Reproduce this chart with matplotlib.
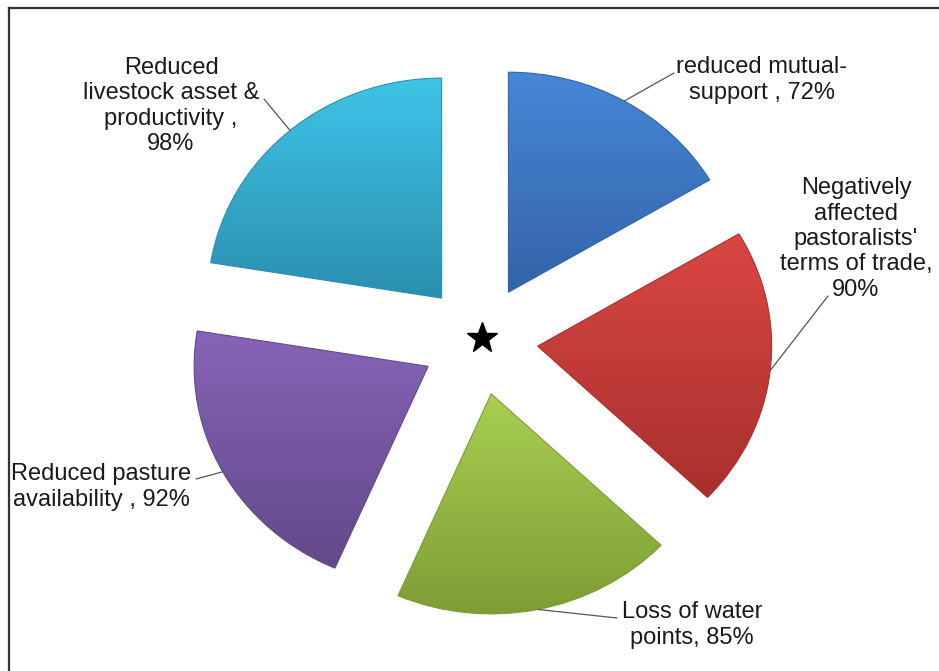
import numpy as np
import matplotlib
matplotlib.use("Agg")
import matplotlib.pyplot as plt
from matplotlib.lines import Line2D
from matplotlib.colors import LinearSegmentedColormap

plt.rcParams['font.family'] = ['Liberation Sans', 'DejaVu Sans']

# Impact categories (clockwise from 12 o'clock) and share of respondents (%)
categories = [
    "reduced mutual-\nsupport , 72%",
    "Negatively\naffected\npastoralists'\nterms of trade,\n90%",
    "Loss of water\npoints, 85%",
    "Reduced pasture\navailability , 92%",
    "Reduced\nlivestock asset &\nproductivity ,\n98%",
]
values = [72, 90, 85, 92, 98]
top_colors = ["#4687D6", "#DA4743", "#A9CF52", "#8764B7", "#3EC4E7"]
bottom_colors = ["#3364A8", "#A8302E", "#7D9C34", "#624989", "#2B8FAF"]

W, H = 939, 671
fig = plt.figure(figsize=(W / 100, H / 100), dpi=100)
fig.patch.set_facecolor("white")

# pie centre and radii (px) – the pie is drawn slightly wider than tall
cx, cy = 479.5, 340.0
rx, ry = 234.0, 220.0
lim = 1.3
ax = fig.add_axes([(cx - lim * rx) / W, (H - cy - lim * ry) / H,
                   2 * lim * rx / W, 2 * lim * ry / H])
ax.set_axis_off()

explode = [0.25] * len(values)
wedges, _ = ax.pie(values, explode=explode, startangle=90, counterclock=False,
                   radius=1.0, colors=top_colors,
                   wedgeprops=dict(linewidth=0.8))

for w, c_top, c_bot in zip(wedges, top_colors, bottom_colors):
    verts = w.get_path().vertices
    x0, x1 = verts[:, 0].min(), verts[:, 0].max()
    y0, y1 = verts[:, 1].min(), verts[:, 1].max()
    cmap = LinearSegmentedColormap.from_list("g", [c_bot, c_top])
    grad = np.linspace(1, 0, 256).reshape(-1, 1)
    im = ax.imshow(grad, cmap=cmap, extent=[x0, x1, y0, y1], aspect="auto",
                   origin="upper", zorder=w.get_zorder() + 0.1,
                   interpolation="bilinear")
    im.set_clip_path(w)
    w.set_edgecolor(c_bot)
    w.set_zorder(w.get_zorder() + 0.2)
    w.set_facecolor("none")

ax.set_aspect("auto")
ax.set_xlim(-lim, lim)
ax.set_ylim(-lim, lim)

# centre marker
ax.plot([0.012], [0.01], marker="*", markersize=23, color="black", zorder=10)


def fig_px(x, y):
    return (x / W, 1 - y / H)


# label text centres and leader end points (figure px)
label_pos = [(762, 80), (856, 239), (692, 625), (101, 487), (171, 106)]
leader_end = [(674, 73), (828, 296), (617, 618), (196, 479), (264, 99)]

for w, lab, tp, le in zip(wedges, categories, label_pos, leader_end):
    mid = np.deg2rad((w.theta1 + w.theta2) / 2)
    ox, oy = w.center
    arc_pt = (ox + np.cos(mid), oy + np.sin(mid))
    ax.annotate("", xy=arc_pt, xycoords="data",
                xytext=fig_px(*le), textcoords="figure fraction",
                arrowprops=dict(arrowstyle="-", color="#555555", lw=0.9,
                                shrinkA=0, shrinkB=0), zorder=5)
    fig.text(*fig_px(*tp), lab, ha="center", va="center", fontsize=17,
             color="#1a1a1a", linespacing=1.2)

# frame lines along the top and left
fig.add_artist(Line2D([8.5 / W, 1], [1 - 7.5 / H, 1 - 7.5 / H],
                      color="#333333", lw=1.6, transform=fig.transFigure))
fig.add_artist(Line2D([8.5 / W, 8.5 / W], [0, 1 - 7.5 / H],
                      color="#333333", lw=1.6, transform=fig.transFigure))

fig.savefig("out.png", dpi=100, facecolor="white")
